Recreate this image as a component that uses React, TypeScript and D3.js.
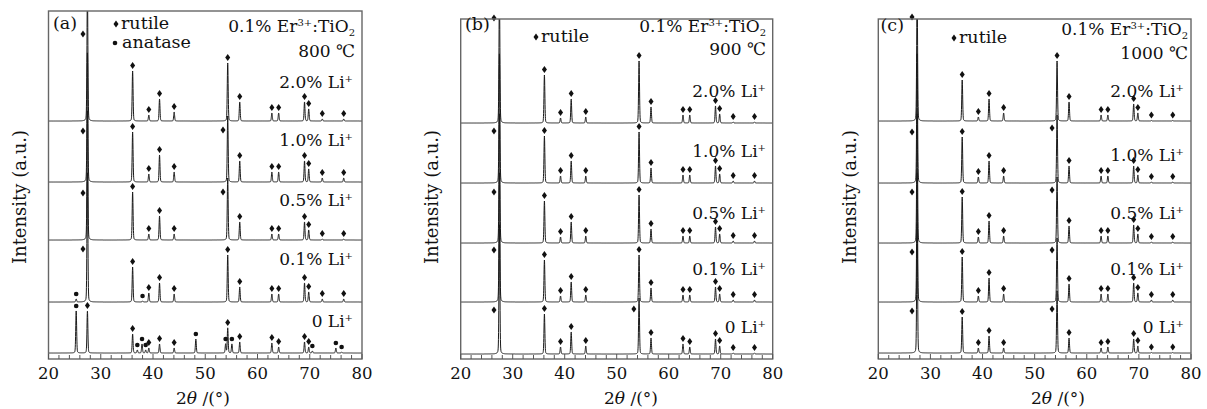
import React from 'react';
import * as d3 from 'd3';

// ---------- data ----------
const rutilePos = [27.45, 36.1, 39.2, 41.25, 44.05, 54.3, 56.6, 62.75, 64.05, 69.0, 69.8, 72.4, 76.5];
const xTicks = [20, 30, 40, 50, 60, 70, 80];
const liLevels = ['2.0%', '1.0%', '0.5%', '0.1%', '0'];
const panelTags = ['(a)', '(b)', '(c)'];
const temperatures = ['800', '900', '1000'];

// stacking offsets of the five traces (2.0%, 1.0%, 0.5%, 0.1%, 0 Li+)
const baseA = [238, 177, 119, 57, 6];
const baseB = [236, 176, 116, 57, 5];
const baseC = [238, 176, 116, 57, 6];

// rutile peak heights, aligned with rutilePos
const A20 = [130, 50, 6, 22, 9, 58, 19, 8, 8, 19, 12, 2, 2];
const A10 = [130, 50, 8, 27, 10, 66, 21, 10, 10, 21, 13, 4, 4];
const A05 = [130, 48, 6, 24, 6, 62, 18, 6, 6, 18, 10, 1, 1];
const A01 = [130, 35, 9, 19, 8, 47, 15, 8, 8, 19, 10, 3, 3];
const A00 = [42, 19, 5, 9, 5, 25, 11, 10, 6, 11, 6, 0, 0];

const B20 = [130, 48, 5, 24, 6, 62, 16, 8, 8, 17, 9, 1, 1];
const B10 = [130, 47, 7, 22, 7, 51, 15, 8, 8, 17, 9, 2, 2];
const B05 = [130, 42, 6, 21, 7, 48, 14, 7, 7, 16, 9, 2, 2];
const B01 = [130, 42, 6, 20, 7, 47, 14, 7, 7, 15, 8, 2, 2];
const B00 = [130, 40, 7, 22, 8, 56, 16, 10, 7, 15, 8, 1, 1];

const C20 = [130, 41, 4, 22, 8, 60, 19, 6, 6, 17, 8, 0.5, 0.5];
const C10 = [130, 46, 6, 22, 7, 68, 17, 7, 7, 17, 8, 1, 1];
const C05 = [130, 46, 6, 22, 7, 66, 17, 7, 7, 18, 9, 1, 1];
const C01 = [130, 45, 6, 24, 8, 64, 18, 8, 8, 19, 9, 2, 2];
const C00 = [130, 36, 5, 17, 5, 62, 15, 5, 6, 14, 7, 0.5, 0.5];

// anatase peaks [2θ, height]
const A01ana: [number, number][] = [[25.3, 3], [38.0, 1]];
const A00ana: [number, number][] = [
  [25.3, 42], [37.0, 3], [37.9, 9], [38.6, 3], [48.2, 14], [53.9, 9],
  [55.1, 9], [70.5, 2], [75.0, 5], [76.1, 1],
];

// markers placed beside a crowded peak [2θ, level above baseline]
const A20side: [number, number][] = [[26.6, 87]];
const A10side: [number, number][] = [[26.6, 51], [53.4, 52]];
const A05side: [number, number][] = [[26.6, 47], [53.4, 48]];
const A01side: [number, number][] = [[26.6, 53]];
const B20side: [number, number][] = [[26.4, 105]];
const B10side: [number, number][] = [[26.4, 52]];
const B05side: [number, number][] = [[26.4, 51]];
const B01side: [number, number][] = [[26.4, 52]];
const B00side: [number, number][] = [[26.4, 44], [53.3, 45]];
const C20side: [number, number][] = [[26.47, 104]];
const C10side: [number, number][] = [[26.47, 51], [53.34, 55]];
const C05side: [number, number][] = [[26.47, 51], [53.34, 53]];
const C01side: [number, number][] = [[26.47, 50], [53.34, 52]];
const C00side: [number, number][] = [[26.47, 42], [53.34, 44]];

// rutile peaks whose marker is not drawn on top
const hide1 = [27.45];
const hide2 = [27.45, 54.3];
const hideA00 = [72.4, 76.5];

type Trace = { base: number; rut: number[]; hide: number[]; ana: [number, number][]; side: [number, number][] };

const panelsData: Trace[][] = [
  [
    { base: baseA[0], rut: A20, hide: hide1, ana: [], side: A20side },
    { base: baseA[1], rut: A10, hide: hide2, ana: [], side: A10side },
    { base: baseA[2], rut: A05, hide: hide2, ana: [], side: A05side },
    { base: baseA[3], rut: A01, hide: hide1, ana: A01ana, side: A01side },
    { base: baseA[4], rut: A00, hide: hideA00, ana: A00ana, side: [] },
  ],
  [
    { base: baseB[0], rut: B20, hide: hide1, ana: [], side: B20side },
    { base: baseB[1], rut: B10, hide: hide1, ana: [], side: B10side },
    { base: baseB[2], rut: B05, hide: hide1, ana: [], side: B05side },
    { base: baseB[3], rut: B01, hide: hide1, ana: [], side: B01side },
    { base: baseB[4], rut: B00, hide: hide2, ana: [], side: B00side },
  ],
  [
    { base: baseC[0], rut: C20, hide: hide1, ana: [], side: C20side },
    { base: baseC[1], rut: C10, hide: hide2, ana: [], side: C10side },
    { base: baseC[2], rut: C05, hide: hide2, ana: [], side: C05side },
    { base: baseC[3], rut: C01, hide: hide2, ana: [], side: C01side },
    { base: baseC[4], rut: C00, hide: hide2, ana: [], side: C00side },
  ],
];

// ---------- layout ----------
const BOTTOM = 359;
const FONT = '"DejaVu Serif", "Liberation Serif", serif';
const geo = [
  { left: 48.5, right: 362, top: 11, tagX: 53, tagY: 29, legX: 116, legY: 24, two: true, erR: 355, erY: 32, tY: 57, liR: 353, liY: [88, 146, 206, 265, 327], titleX: 203, ylabX: 19 },
  { left: 460.7, right: 772.7, top: 19, tagX: 465, tagY: 30, legX: 536, legY: 37, two: false, erR: 766, erY: 32, tY: 55, liR: 766, liY: [97, 157, 219, 275, 333], titleX: 631, ylabX: 431 },
  { left: 878.3, right: 1191, top: 19, tagX: 880.5, tagY: 31, legX: 954, legY: 38, two: false, erR: 1188, erY: 35, tY: 59, liR: 1184, liY: [97, 161, 219, 275, 333], titleX: 1058, ylabX: 849 },
];

const profile = (dx: number) =>
  0.85 * Math.exp(-0.5 * (dx / 0.085) * (dx / 0.085)) + 0.15 / (1 + (dx / 0.12) * (dx / 0.12));

const diamond = 'M0,-3.4L2.5,0L0,3.4L-2.5,0Z';

function Panel({ idx }: { idx: number }) {
  const g = geo[idx];
  const traces = panelsData[idx];
  const x = d3.scaleLinear().domain([20, 80]).range([g.left, g.right]);
  const y = d3.scaleLinear().domain([0, BOTTOM - g.top]).range([BOTTOM, g.top]);
  const xs = d3.range(20, 80.0001, 0.02);
  const line = d3.line<[number, number]>().x(d => x(d[0])).y(d => y(d[1]));
  const clipId = `clip${idx}`;
  const minor = d3.range(20, 81, 2);

  return (
    <g>
      <defs>
        <clipPath id={clipId}>
          <rect x={g.left} y={g.top} width={g.right - g.left} height={BOTTOM - g.top} />
        </clipPath>
      </defs>
      <g clipPath={`url(#${clipId})`}>
        {traces.map((t, ti) => {
          const peaks: [number, number][] = rutilePos.map((p, i) => [p, t.rut[i]] as [number, number]).concat(t.ana);
          const pts: [number, number][] = xs.map(v => {
            let s = t.base;
            for (const [p, h] of peaks) {
              const dx = v - p;
              if (Math.abs(dx) < 3) s += h * profile(dx);
            }
            return [v, s];
          });
          return <path key={ti} d={line(pts) || ''} fill="none" stroke="#1a1a1a" strokeWidth={1} />;
        })}
      </g>
      {traces.map((t, ti) => (
        <g key={'m' + ti} fill="#111">
          {rutilePos.map((p, i) =>
            t.hide.includes(p) ? null : (
              <path key={'r' + i} d={diamond} transform={`translate(${x(p)},${y(t.base + t.rut[i]) - 5.5})`} />
            ))}
          {t.ana.map(([p, h], i) => (
            <circle key={'a' + i} cx={x(p)} cy={y(t.base + h) - 5} r={2.3} />
          ))}
          {t.side.map(([p, lv], i) => (
            <path key={'s' + i} d={diamond} transform={`translate(${x(p)},${y(t.base + lv)})`} />
          ))}
        </g>
      ))}
      <rect x={g.left} y={g.top} width={g.right - g.left} height={BOTTOM - g.top} fill="none" stroke="#666" strokeWidth={1.4} />
      {minor.map(v => (
        <line key={'t' + v} x1={x(v)} x2={x(v)} y1={BOTTOM} y2={BOTTOM - (v % 10 === 0 ? 5 : 4)} stroke="#555" strokeWidth={1} />
      ))}
      <g fontFamily={FONT} fill="#111">
        {xTicks.map(v => (
          <text key={'l' + v} x={x(v)} y={379} textAnchor="middle" fontSize={16.5}>{v}</text>
        ))}
        <text x={g.titleX} y={404} textAnchor="middle" fontSize={17}>
          2<tspan fontStyle="italic">θ</tspan> /(°)
        </text>
        <text transform={`translate(${g.ylabX},197) rotate(-90)`} textAnchor="middle" dominantBaseline="central" fontSize={18}>
          Intensity (a.u.)
        </text>
        <text x={g.tagX} y={g.tagY} fontSize={17.5}>{panelTags[idx]}</text>
        <path d={diamond} transform={`translate(${g.legX},${g.legY})`} />
        <text x={g.legX + 5} y={g.legY + 5} fontSize={17.5}>rutile</text>
        {g.two && (
          <>
            <circle cx={g.legX - 1} cy={g.legY + 19} r={2.3} />
            <text x={g.legX + 6} y={g.legY + 24} fontSize={17.5}>anatase</text>
          </>
        )}
        <text x={g.erR} y={g.erY} textAnchor="end" fontSize={17}>
          0.1% Er<tspan dy={-6} fontSize={10}>3+</tspan><tspan dy={6}>:TiO</tspan><tspan dy={4} fontSize={10}>2</tspan>
        </text>
        <text x={g.erR} y={g.tY} textAnchor="end" fontSize={17}>
          {temperatures[idx]} ℃
        </text>
        {liLevels.map((lv, i) => (
          <text key={'li' + i} x={g.liR} y={g.liY[i]} textAnchor="end" fontSize={17}>
            {lv} Li<tspan dy={-6} fontSize={10}>+</tspan>
          </text>
        ))}
      </g>
    </g>
  );
}

export default function App() {
  return (
    <svg width={1207} height={409} style={{ position: 'absolute', left: 0, top: 0, background: '#fff' }}>
      <rect width={1207} height={409} fill="#fff" />
      {[0, 1, 2].map(i => <Panel key={i} idx={i} />)}
    </svg>
  );
}
